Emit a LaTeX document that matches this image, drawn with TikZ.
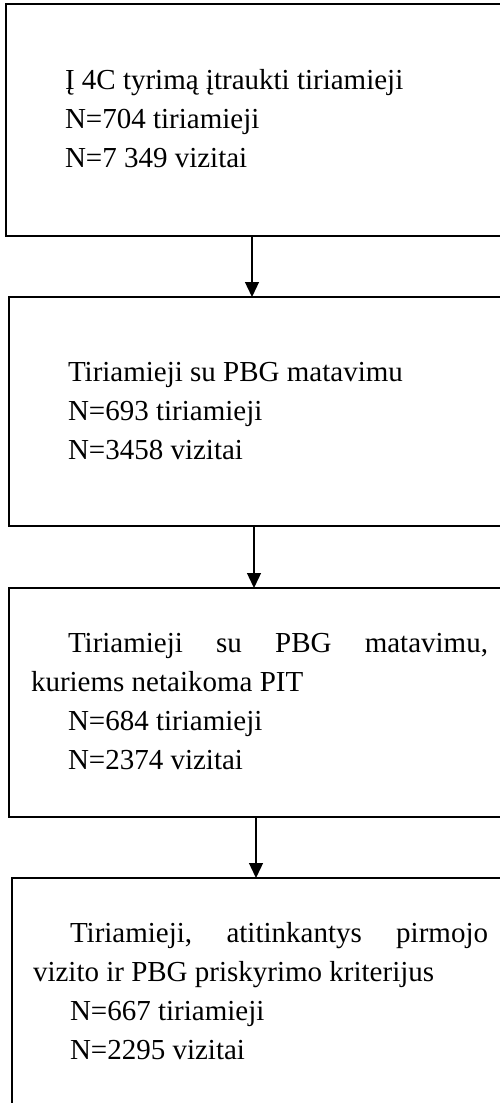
\documentclass[tikz,border=0pt]{standalone}
\usepackage{fontspec}
\setmainfont{Liberation Serif}
\usetikzlibrary{arrows.meta}
\begin{document}
\begin{tikzpicture}[x=1pt,y=-1pt,
  boxst/.style={draw=black, line width=2.4pt, rectangle, anchor=north west, inner sep=0pt, outer sep=0pt},
  txt/.style={anchor=base west, inner sep=0pt, outer sep=0pt, font=\fontsize{29pt}{39pt}\selectfont},
  arr/.style={draw=black, line width=1.3pt, -{Triangle[width=14pt,length=15pt]}}]
\path[use as bounding box, fill=white] (0,0) rectangle (500,1103);
\clip (0,0) rectangle (500,1103);
% boxes
\node[boxst, minimum width=530pt, minimum height=232pt] (b1) at (6,4) {};
\node[boxst, minimum width=530pt, minimum height=229pt] (b2) at (9,297) {};
\node[boxst, minimum width=530pt, minimum height=229pt] (b3) at (9,588) {};
\node[boxst, minimum width=530pt, minimum height=260pt] (b4) at (12,878) {};
% texts box 1
\node[txt] (t1a) at (65,89) {Į 4C tyrimą įtraukti tiriamieji};
\node[txt] (t1b) at (65,128) {N=704 tiriamieji};
\node[txt] (t1c) at (65,167) {N=7 349 vizitai};
% texts box 2
\node[txt] (t2a) at (68,381) {Tiriamieji su PBG matavimu};
\node[txt] (t2b) at (68,420) {N=693 tiriamieji};
\node[txt] (t2c) at (68,459) {N=3458 vizitai};
% texts box 3
\node[txt] (t3a) at (68,652) {\makebox[420pt][s]{Tiriamieji\hfill su\hfill PBG\hfill matavimu,}};
\node[txt] (t3b) at (31,691) {kuriems netaikoma PIT};
\node[txt] (t3c) at (68,730) {N=684 tiriamieji};
\node[txt] (t3d) at (68,769) {N=2374 vizitai};
% texts box 4
\node[txt] (t4a) at (70,942) {\makebox[418pt][s]{Tiriamieji,\hfill atitinkantys\hfill pirmojo}};
\node[txt] (t4b) at (33,981) {vizito ir PBG priskyrimo kriterijus};
\node[txt] (t4c) at (70,1020) {N=667 tiriamieji};
\node[txt] (t4d) at (70,1059) {N=2295 vizitai};
% arrows
\draw[arr] ([xshift=246pt]b1.south west) -- ([xshift=246pt]b1.south west |- b2.north);
\draw[arr] ([xshift=245pt]b2.south west) -- ([xshift=245pt]b2.south west |- b3.north);
\draw[arr] ([xshift=247pt]b3.south west) -- ([xshift=247pt]b3.south west |- b4.north);
\end{tikzpicture}
\end{document}
